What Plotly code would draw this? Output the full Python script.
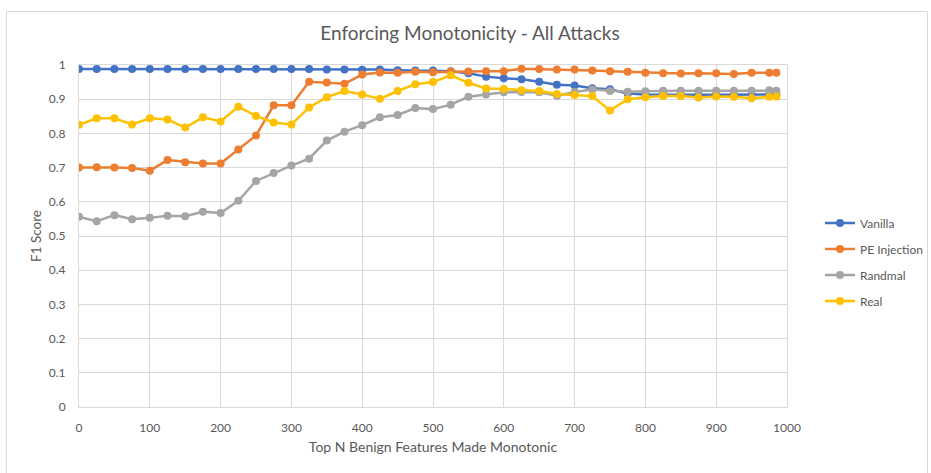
import plotly.graph_objects as go

# Number of top benign features forced to be monotonic
n_features = [0, 25, 50, 75, 100, 125, 150, 175, 200, 225, 250, 275, 300, 325,
              350, 375, 400, 425, 450, 475, 500, 525, 550, 575, 600, 625, 650,
              675, 700, 725, 750, 775, 800, 825, 850, 875, 900, 925, 950, 975, 985]

# F1 score per attack set
vanilla = [0.988, 0.988, 0.988, 0.988, 0.988, 0.988, 0.988, 0.988, 0.988, 0.988,
           0.988, 0.988, 0.988, 0.988, 0.987, 0.987, 0.986, 0.987, 0.985, 0.984,
           0.984, 0.982, 0.976, 0.966, 0.961, 0.958, 0.951, 0.942, 0.940, 0.932,
           0.929, 0.917, 0.914, 0.913, 0.913, 0.913, 0.913, 0.913, 0.913, 0.913, 0.914]
pe_injection = [0.700, 0.701, 0.700, 0.699, 0.691, 0.722, 0.716, 0.712, 0.712, 0.753,
                0.794, 0.882, 0.882, 0.951, 0.949, 0.945, 0.972, 0.978, 0.977, 0.980,
                0.979, 0.981, 0.981, 0.982, 0.982, 0.989, 0.988, 0.987, 0.987, 0.984,
                0.982, 0.980, 0.977, 0.976, 0.975, 0.976, 0.976, 0.974, 0.977, 0.977, 0.977]
randmal = [0.556, 0.543, 0.561, 0.549, 0.553, 0.559, 0.558, 0.571, 0.567, 0.603,
           0.661, 0.684, 0.706, 0.726, 0.779, 0.805, 0.824, 0.847, 0.854, 0.874,
           0.871, 0.884, 0.907, 0.914, 0.920, 0.921, 0.920, 0.910, 0.921, 0.928,
           0.924, 0.922, 0.923, 0.925, 0.925, 0.925, 0.925, 0.925, 0.925, 0.926, 0.925]
real = [0.825, 0.844, 0.844, 0.826, 0.844, 0.841, 0.817, 0.847, 0.835, 0.878,
        0.851, 0.832, 0.826, 0.876, 0.906, 0.924, 0.914, 0.901, 0.924, 0.944,
        0.950, 0.970, 0.948, 0.931, 0.930, 0.926, 0.924, 0.915, 0.912, 0.909,
        0.867, 0.900, 0.906, 0.909, 0.909, 0.905, 0.908, 0.907, 0.903, 0.907, 0.908]

series = [
    ("Vanilla", vanilla, "#4472C4"),
    ("PE Injection", pe_injection, "#ED7D31"),
    ("Randmal", randmal, "#A5A5A5"),
    ("Real", real, "#FFC000"),
]

FONT = "Lato"
TEXT = "#595959"
GRID = "#D9D9D9"

fig = go.Figure()
for name, vals, color in series:
    fig.add_trace(go.Scatter(
        x=n_features, y=vals, name=name, mode="lines+markers",
        line=dict(color=color, width=2.5),
        marker=dict(color=color, size=8),
        legendgroup=name,
    ))

# Plot area in pixels: left 79, right 787, top 65, bottom 407
L, R, T, B = 79, 787, 65, 407
W, H = 931, 473
pw, ph = R - L, B - T

def px_x(p):
    return (p - L) / pw

def px_y(p):
    return (B - p) / ph

fig.update_layout(
    width=W, height=H,
    margin=dict(l=L, r=W - R, t=T, b=H - B, autoexpand=False),
    paper_bgcolor="white", plot_bgcolor="white",
    font=dict(family=FONT, color=TEXT, size=12),
    title=dict(text="Enforcing Monotonicity - All Attacks",
               x=470 / W, xref="container", xanchor="center",
               y=1 - 33 / H, yref="container", yanchor="middle",
               font=dict(family=FONT, size=19, color=TEXT)),
    xaxis=dict(range=[0, 1000], dtick=100, tick0=0,
               showgrid=True, gridcolor=GRID, gridwidth=1,
               showline=True, linecolor=GRID, linewidth=1, mirror=True,
               zeroline=False, ticks="", ticklabelstandoff=10,
               tickfont=dict(family=FONT, size=12, color=TEXT),
               title=dict(text="Top N Benign Features Made Monotonic",
                          font=dict(family=FONT, size=14, color=TEXT),
                          standoff=7)),
    yaxis=dict(range=[0, 1], dtick=0.1, tick0=0,
               showgrid=True, gridcolor=GRID, gridwidth=1,
               showline=True, linecolor=GRID, linewidth=1, mirror=True,
               zeroline=False, ticks="", ticklabelstandoff=10,
               tickfont=dict(family=FONT, size=12, color=TEXT),
               title=dict(text="F1 Score",
                          font=dict(family=FONT, size=13.5, color=TEXT),
                          standoff=4)),
    legend=dict(x=px_x(820), xanchor="left", y=px_y(262), yanchor="middle",
                traceorder="grouped", tracegroupgap=7,
                font=dict(family=FONT, size=12, color=TEXT),
                bgcolor="rgba(0,0,0,0)", borderwidth=0),
    shapes=[dict(type="rect", xref="paper", yref="paper",
                 x0=px_x(6.5), x1=px_x(927.5), y0=px_y(480), y1=px_y(11.5),
                 line=dict(color=GRID, width=1), fillcolor="rgba(0,0,0,0)",
                 layer="below")],
)

fig.write_html("out.html")
